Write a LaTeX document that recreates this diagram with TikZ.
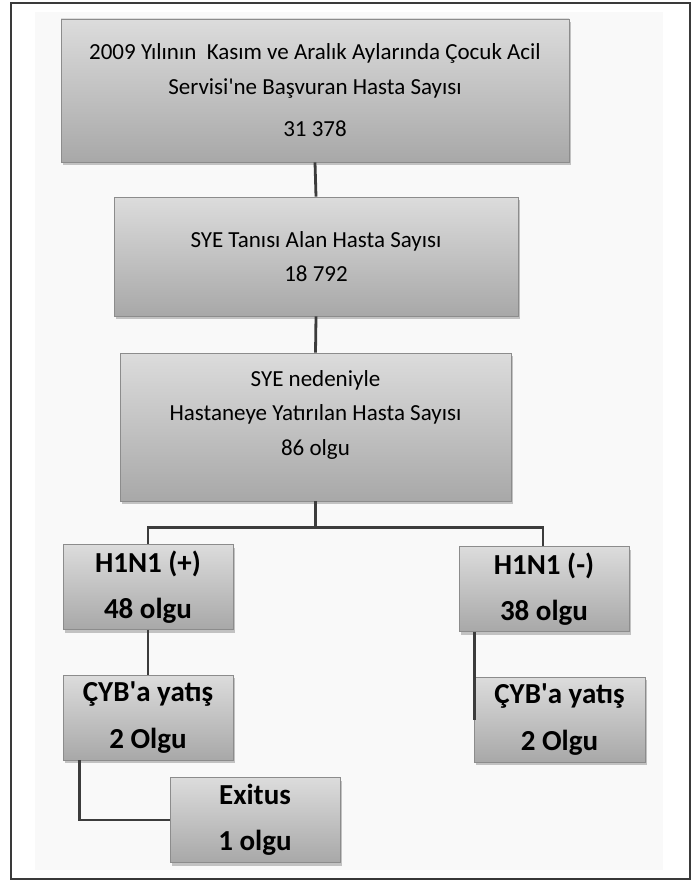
\documentclass[tikz,border=0pt]{standalone}
\usepackage{fontspec}
\setmainfont{Carlito}
\usepackage{tikz}
\usetikzlibrary{
    shapes, arrows.meta, positioning, calc,
    shadows, backgrounds
}
\definecolor{frameGray}{HTML}{3A3A3A}
\definecolor{panelGray}{HTML}{F9F9F9}
\definecolor{boxTop}{HTML}{DCDCDC}
\definecolor{boxBottom}{HTML}{A8A8A8}
\definecolor{boxEdge}{HTML}{8C8C8C}
\definecolor{linkGray}{HTML}{3C3C3C}
\tikzset{
    % Boxes
    flowBox/.style={
        rectangle, draw=boxEdge, line width=0.8pt,
        top color=boxTop, bottom color=boxBottom,
        drop shadow={opacity=0.45, shadow xshift=2pt, shadow yshift=-3pt},
        align=center, inner sep=0pt
    },
    infoBox/.style={flowBox, font=\fontsize{23}{34.5}\selectfont},
    caseBox/.style={flowBox, font=\fontsize{29}{46.5}\selectfont\bfseries,
        minimum width=170pt, minimum height=85pt},
    % Connectors
    link/.style={draw=linkGray, line width=2.8pt}
}

\begin{document}
\begin{tikzpicture}[x=1pt, y=-1pt]
    \useasboundingbox (0,0) rectangle (691,880);
    % Frame
    \draw[frameGray, line width=1.3pt] (11,3) rectangle (690,879);
    \fill[panelGray] (35,12) rectangle (663,870);

    % Upper chain
    \node[infoBox, minimum width=508pt, minimum height=143pt] (topBox) at (315,90.5)
        {\fontsize{23}{25}\selectfont 2009 Yılının\ \ Kasım ve Aralık Aylarında\ Çocuk Acil\\
         \fontsize{23}{25}\selectfont Servisi\textquotesingle ne Başvuran Hasta Sayısı\\[8pt]
         31 378};
    \node[infoBox, minimum width=404pt, minimum height=119pt] (sayiBox) at (316,256.5)
        {SYE Tanısı Alan Hasta Sayısı\\ 18 792};
    \node[infoBox, minimum width=391pt, minimum height=148pt] (yatisBox) at (315.5,427)
        {SYE nedeniyle\\ Hastaneye Yatırılan Hasta Sayısı\\ 86 olgu\rule[-28pt]{0pt}{0pt}};

    % H1N1 branches
    \node[caseBox] (posBox) at (148,587) {H1N1 (+)\\ 48 olgu};
    \node[caseBox] (negBox) at (544,589) {H1N1 (-)\\ 38 olgu};
    \node[caseBox] (posCybBox) at (148,717.5) {ÇYB\textquotesingle a yatış\\ 2 Olgu};
    \node[caseBox, minimum width=171pt] (negCybBox) at (559.5,719.5) {ÇYB\textquotesingle a yatış\\ 2 Olgu};
    \node[caseBox] (exitusBox) at (255,820) {Exitus\\ 1 olgu};

    % Connectors
    \draw[link] (topBox.south) -- (sayiBox.north);
    \draw[link] (sayiBox.south) -- (yatisBox.north);
    \coordinate (split) at ($(yatisBox.south)+(0,26)$);
    \draw[link] (yatisBox.south) -- (split) -| (posBox.north);
    \draw[link] (split) -| ([xshift=-1pt]negBox.north);
    \draw[link] (posBox.south) -- (posCybBox.north);
    \draw[link] ([xshift=16pt]negBox.south west) -- ([xshift=16pt]negBox.south west |- negCybBox.west);
    \draw[link] ([xshift=17pt]posCybBox.south west) |- (exitusBox.west);
\end{tikzpicture}
\end{document}
